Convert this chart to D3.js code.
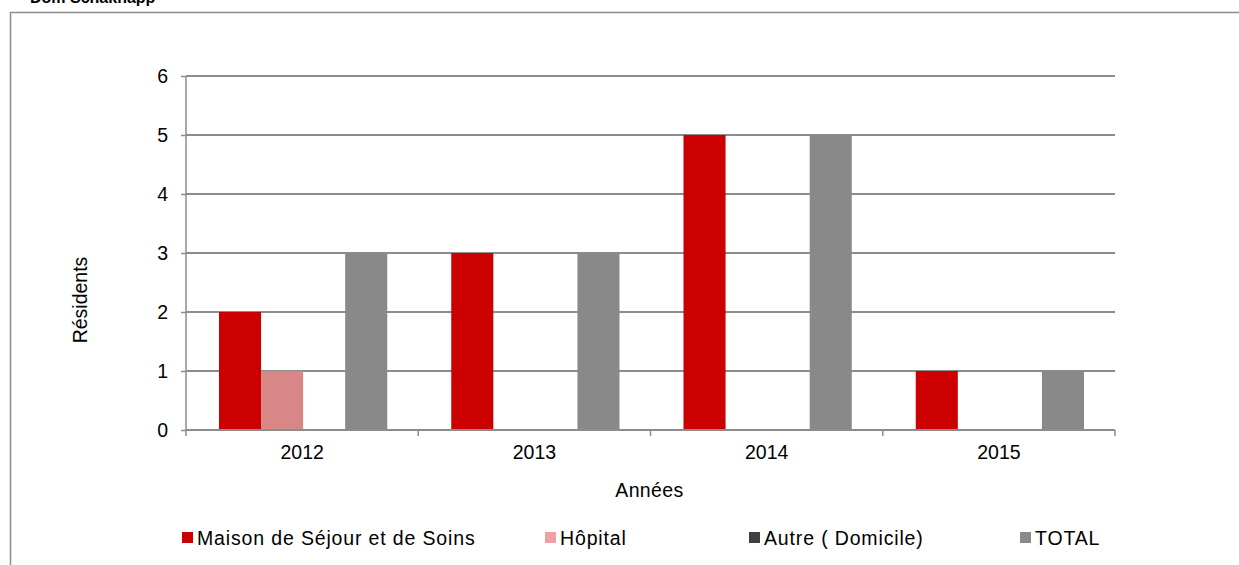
<!DOCTYPE html>
<html>
<head>
<meta charset="utf-8">
<script src="https://cdn.jsdelivr.net/npm/d3@7"></script>
<style>
	body { margin: 0; background: #fff; }
	svg { font-family: "Liberation Sans", Arial, sans-serif; }
</style>
</head>
<body>
<div id="chart"></div>
<script>
// Data
const years = ["2012", "2013", "2014", "2015"];
const seriesNames = ["Maison de Séjour et de Soins", "Hôpital", "Autre ( Domicile)", "TOTAL"];
const maisonValues = [2, 3, 5, 1];
const hopitalValues = [1, 0, 0, 0];
const autreValues = [0, 0, 0, 0];
const totalValues = [3, 3, 5, 1];
const yTicks = [0, 1, 2, 3, 4, 5, 6];

const barColors = ["#cc0000", "#d98686", "#404040", "#898989"];
const legendColors = ["#cc0000", "#f0a0a0", "#404040", "#898989"];
const legendX = [182, 545, 749, 1020];
const fontSize = 19.5;

const width = 1239, height = 565;
const margin = { top: 76, left: 186, right: 124, bottom: 135 };
const innerWidth = width - margin.left - margin.right;
const innerHeight = height - margin.top - margin.bottom;

let svg = d3.select("#chart").append("svg")
	.attr("width", width)
	.attr("height", height);

// outer frame + cut title
svg.append("rect")
	.attr("x", 10.5).attr("y", 12.5)
	.attr("width", 1240).attr("height", 600)
	.attr("fill", "none").attr("stroke", "#8c8c8c").attr("stroke-width", 1.5);
svg.append("text")
	.attr("x", 30).attr("y", 3)
	.attr("font-weight", "bold").attr("font-size", 16)
	.text("Dom Schaknapp");

const g = svg.append("g")
	.attr("transform", "translate(" + margin.left + "," + margin.top + ")");

// scales
let x = d3.scaleBand()
	.domain(years)
	.range([0, innerWidth]);

let sub = d3.scaleBand()
	.domain(seriesNames)
	.range([33, x.bandwidth() - 31]);

let y = d3.scaleLinear()
	.domain([0, 6])
	.range([innerHeight, 0]);

// gridlines
g.append("g").selectAll("line")
	.data(yTicks.slice(1)).enter()
	.append("line")
	.attr("x1", 0).attr("x2", innerWidth)
	.attr("y1", d => y(d)).attr("y2", d => y(d))
	.attr("stroke", "#8c8c8c").attr("stroke-width", 2);

// Y axis
let yAxis = g.append("g")
	.call(d3.axisLeft(y).tickValues(yTicks).tickFormat(d3.format("d")).tickSize(5).tickPadding(13));
yAxis.selectAll("text").attr("font-size", fontSize).attr("fill", "#000").style("font-family", "Liberation Sans, Arial, sans-serif");
yAxis.selectAll("line, path").attr("stroke", "#8c8c8c").attr("stroke-width", 1.5);
yAxis.select(".domain").attr("d", "M0," + y(6) + "V" + innerHeight);

// bars
const allValues = [maisonValues, hopitalValues, autreValues, totalValues];
let points = g.append("g").selectAll("g")
	.data(seriesNames).enter()
	.append("g")
	.attr("fill", (d, i) => barColors[i])
	.selectAll("rect")
	.data((d, i) => years.map((yr, j) => ({ year: yr, key: d, value: allValues[i][j] })))
	.enter().append("rect")
	.attr("x", d => x(d.year) + sub(d.key))
	.attr("width", sub.bandwidth())
	.attr("y", d => y(d.value))
	.attr("height", d => innerHeight - y(d.value));

// X axis
let xAxis = g.append("g")
	.attr("transform", "translate(0," + innerHeight + ")")
	.call(d3.axisBottom(x).tickSize(0).tickPadding(15));
xAxis.selectAll("text").attr("font-size", fontSize).attr("fill", "#000").style("font-family", "Liberation Sans, Arial, sans-serif");
xAxis.select(".domain").attr("stroke", "#8c8c8c").attr("stroke-width", 2).attr("d", "M0,0H" + innerWidth);
xAxis.append("g").selectAll("line")
	.data(d3.range(years.length + 1)).enter()
	.append("line")
	.attr("x1", d => d * x.step()).attr("x2", d => d * x.step())
	.attr("y1", 0).attr("y2", 6)
	.attr("stroke", "#8c8c8c").attr("stroke-width", 1.5);

// axis titles
g.append("text")
	.attr("transform", "rotate(-90)")
	.attr("x", -(300 - margin.top)).attr("y", 80 - margin.left + 7)
	.attr("text-anchor", "middle").attr("font-size", fontSize)
	.text("Résidents");
g.append("text")
	.attr("x", innerWidth / 2 - 1).attr("y", 497 - margin.top)
	.attr("text-anchor", "middle").attr("font-size", fontSize)
	.style("letter-spacing", "0.4px")
	.text("Années");

// legend
let legend = svg.append("g").selectAll("g")
	.data(seriesNames).enter()
	.append("g")
	.attr("transform", (d, i) => "translate(" + legendX[i] + ",538)");
legend.append("rect")
	.attr("x", 0).attr("y", -6)
	.attr("width", 11).attr("height", 11)
	.attr("fill", (d, i) => legendColors[i]);
legend.append("text")
	.attr("x", 15).attr("y", 7)
	.attr("font-size", fontSize)
	.style("letter-spacing", "0.85px")
	.text(d => d);
</script>
</body>
</html>
